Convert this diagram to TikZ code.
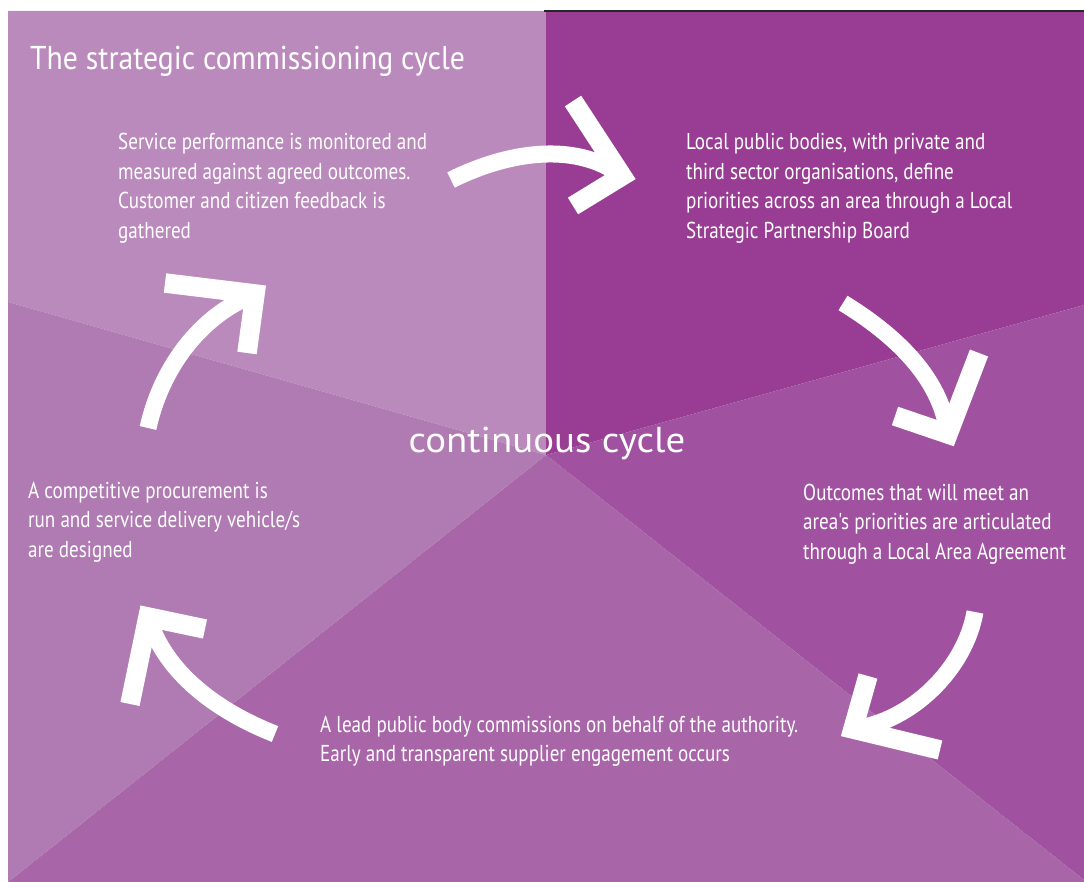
\documentclass[tikz,border=0pt]{standalone}
\usepackage{fontspec}
\setmainfont{PT Sans}
\newfontfamily\bodyfont[FakeStretch=0.83]{PT Sans}
\newfontfamily\headfont[FakeStretch=0.9]{PT Sans}
\newfontfamily\cyclefont[FakeStretch=1.08]{PT Sans}
\definecolor{tlpurple}{RGB}{187,138,188}
\definecolor{trpurple}{RGB}{152,61,147}
\definecolor{rpurple}{RGB}{160,82,160}
\definecolor{bpurple}{RGB}{168,102,169}
\definecolor{lpurple}{RGB}{176,122,178}
\begin{document}
\begin{tikzpicture}[x=1pt, y=-1pt,
		every node/.style={text=white, inner sep=0pt, anchor=base west, align=left},
		body/.style={font=\bodyfont\fontsize{23}{29.5}\selectfont},
		shaft/.style={draw=white, line width=17pt},
		head/.style={draw=white, line width=19.5pt, line join=miter, miter limit=10}
		]
		\useasboundingbox (0,0) rectangle (1084,882);
		\coordinate (C) at (546,455);
		\fill[tlpurple] (8,11) -- (546,11) -- (C) -- (8,302) -- cycle;
		\fill[trpurple] (546,11) -- (1084,11) -- (1084,305) -- (C) -- cycle;
		\fill[rpurple] (1084,305) -- (1084,880) -- (C) -- cycle;
		\fill[bpurple] (C) -- (1084,880) -- (1084,882) -- (8,882) -- cycle;
		\fill[lpurple] (8,302) -- (C) -- (8,882) -- cycle;
		\draw[black!85, line width=1.5pt] (544,11) -- (1084,11);

		\node[font=\headfont\fontsize{33}{36}\selectfont] (Title) at (30,70) {The strategic commissioning cycle};
		\node[font=\cyclefont\fontsize{36}{40}\selectfont, anchor=base] (Cycle) at (547,452) {continuous cycle};
		\node[body] (Monitor) at (118,238.5) {Service performance is monitored and\\measured against agreed outcomes.\\Customer and citizen feedback is\\gathered};
		\node[body] (Priorities) at (686,238.5) {Local public bodies, with private and\\third sector organisations, define\\priorities across an area through a Local\\Strategic Partnership Board};
		\node[body] (Outcomes) at (803,559) {Outcomes that will meet an\\area's priorities are articulated\\through a Local Area Agreement};
		\node[body] (Commission) at (320,761.5) {A lead public body commissions on behalf of the authority.\\Early and transparent supplier engagement occurs};
		\node[body] (Procure) at (28,557) {A competitive procurement is\\run and service delivery vehicle/s\\are designed};

		\coordinate (s1) at (451,180); \coordinate (a1) at (505,153); \coordinate (b1) at (574,140); \coordinate (v1) at (622,176);
		\coordinate (o1) at (573,101); \coordinate (i1) at (573,206);
		\coordinate (s2) at (843,303); \coordinate (a2) at (892,333); \coordinate (b2) at (941,376); \coordinate (v2) at (948,434);
		\coordinate (o2) at (979,353); \coordinate (i2) at (895,416);
		\coordinate (s3) at (975,612); \coordinate (a3) at (965,669); \coordinate (b3) at (911,722); \coordinate (v3) at (853,729);
		\coordinate (o3) at (940,750); \coordinate (i3) at (868,676);
		\coordinate (s4) at (275,734); \coordinate (a4) at (219,712); \coordinate (b4) at (165,674); \coordinate (v4) at (148,617);
		\coordinate (o4) at (130,704); \coordinate (i4) at (205,629);
		\coordinate (s5) at (148,428); \coordinate (a5) at (161,369); \coordinate (b5) at (199,316); \coordinate (v5) at (255,294);
		\coordinate (o5) at (165,283); \coordinate (i5) at (247,353);
		\foreach \k in {1,...,5}{
			\draw[shaft] (s\k) .. controls (a\k) and (b\k) .. (v\k);
			\draw[head] (o\k) -- (v\k) -- (i\k);
		}
	\end{tikzpicture}
\end{document}
